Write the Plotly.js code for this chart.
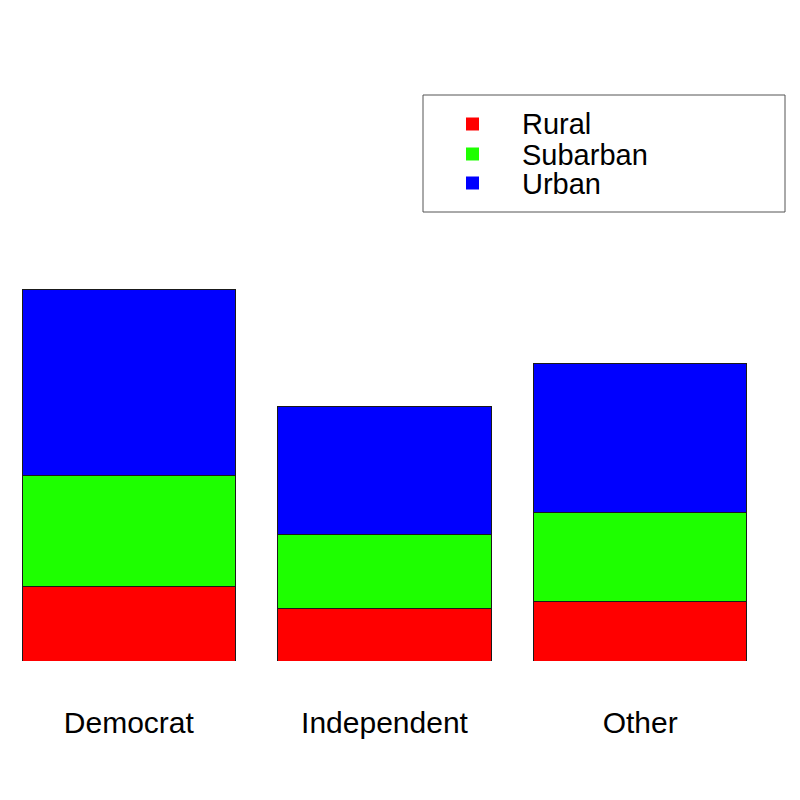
<!DOCTYPE html>
<html>
<head>
<meta charset="utf-8">
<script src="https://cdn.plot.ly/plotly-3.0.1.min.js"></script>
<style>html,body{margin:0;padding:0;background:#fff;}#chart{width:800px;height:800px;}</style>
</head>
<body>
<div id="chart"></div>
<script>
const categories = ['Democrat', 'Independent', 'Other'];
const seriesNames = ['Rural', 'Subarban', 'Urban'];
const rural = [20, 14, 16];
const suburban = [30, 20, 24];
const urban = [50, 34.5, 40];
const colors = ['#ff0000', '#1eff00', '#0000ff'];

const values = [rural, suburban, urban];
const traces = seriesNames.map((name, i) => ({
  type: 'bar',
  name: name,
  x: categories,
  y: values[i],
  marker: {color: colors[i], line: {color: '#1a1a1a', width: 1}},
  showlegend: false,
  hoverinfo: 'none'
}));

// custom legend box (R-style), positioned in paper pixels
const W = 800, H = 800;
const mL = 1, mR = 32, mT = 50, mB = 139;
const pw = W - mL - mR, ph = H - mT - mB;
const px = x => (x - mL) / pw;
const py = y => (H - mB - y) / ph;

const shapes = [{
  type: 'rect', xref: 'paper', yref: 'paper',
  x0: px(423), x1: px(785), y0: py(212), y1: py(95),
  line: {color: '#555555', width: 1}, fillcolor: 'rgba(0,0,0,0)'
}];
const annotations = [];
const rowY = [124, 154, 183];
seriesNames.forEach((name, i) => {
  shapes.push({
    type: 'rect', xref: 'paper', yref: 'paper',
    x0: px(466), x1: px(479), y0: py(rowY[i] + 6.5), y1: py(rowY[i] - 6.5),
    line: {width: 0}, fillcolor: colors[i]
  });
  annotations.push({
    xref: 'paper', yref: 'paper', x: px(521), y: py(rowY[i]),
    xanchor: 'left', yanchor: 'middle', showarrow: false,
    height: 29, borderpad: 0,
    text: name, font: {family: 'Liberation Sans, Arial, sans-serif', size: 29, color: '#000'}
  });
});

const layout = {
  width: W, height: H,
  margin: {l: mL, r: mR, t: mT, b: mB},
  barmode: 'stack',
  bargap: 0.1667,
  paper_bgcolor: '#ffffff',
  plot_bgcolor: '#ffffff',
  showlegend: false,
  xaxis: {
    type: 'category', range: [-0.5, 2.5],
    showgrid: false, zeroline: false, showline: false,
    ticks: '', ticklabelstandoff: 41,
    tickfont: {family: 'Liberation Sans, Arial, sans-serif', size: 30, color: '#000'}
  },
  yaxis: {
    range: [0, 164.4], visible: false, showgrid: false, zeroline: false
  },
  shapes: shapes,
  annotations: annotations
};

Plotly.newPlot('chart', traces, layout, {displayModeBar: false, staticPlot: true});
</script>
</body>
</html>
